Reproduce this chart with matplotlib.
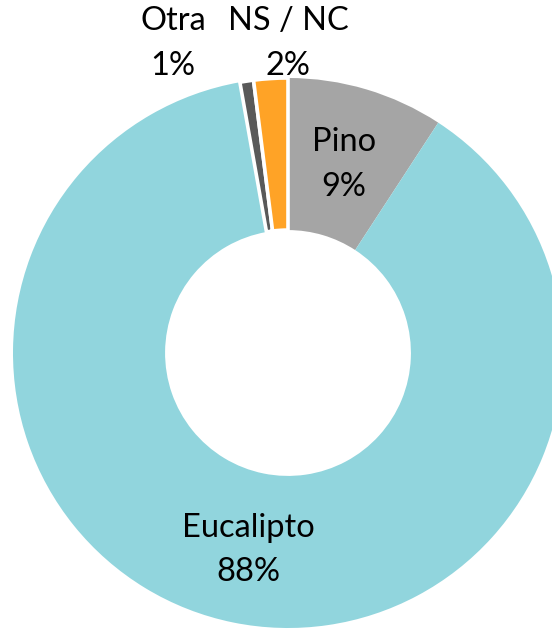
import numpy as np
import matplotlib.pyplot as plt

plt.rcParams['font.family'] = ['Lato', 'DejaVu Sans']

# data
categories = ['Pino', 'Eucalipto', 'Otra', 'NS / NC']
shares = [9.2, 88.0, 0.8, 2.0]
pct_labels = ['9%', '88%', '1%', '2%']
colors = ['#A5A5A5', '#91D5DD', '#595959', '#FFA326']

W, H = 552, 629
cx, cy, R = 288, 353, 275  # centre and radius in pixels

fig = plt.figure(figsize=(W / 100, H / 100), dpi=100)
ax = fig.add_axes([0, 0, 1, 1])

wedges, _ = ax.pie(shares, colors=colors, startangle=90, counterclock=False,
                   radius=1, wedgeprops=dict(width=0.553, linewidth=0))

# small slices get a white border like in the original
for w in wedges[2:]:
    w.set_edgecolor('white')
    w.set_linewidth(2.6)
    w.set_zorder(3)

ax.set_xlim(-cx / R, (W - cx) / R)
ax.set_ylim(-(H - cy) / R, cy / R)
ax.set_aspect('equal')
ax.axis('off')

fs = 23.5
ls = 1.6

# label placement: inside labels along the mid-angle, outside ones above
inside_r = [0.715, 0.73]
for i in range(2):
    w = wedges[i]
    ang = np.deg2rad((w.theta1 + w.theta2) / 2)
    x, y = inside_r[i] * np.cos(ang), inside_r[i] * np.sin(ang)
    ax.text(x, y, categories[i] + '\n' + pct_labels[i], ha='center', va='center',
            fontsize=fs, linespacing=ls, color='black')

outside_x = [-0.418, 0.0]
for j, i in enumerate([2, 3]):
    ax.text(outside_x[j], 1.125, categories[i] + '\n' + pct_labels[i], ha='center',
            va='center', fontsize=fs, linespacing=ls, color='black')

fig.savefig('out.png', dpi=100)
